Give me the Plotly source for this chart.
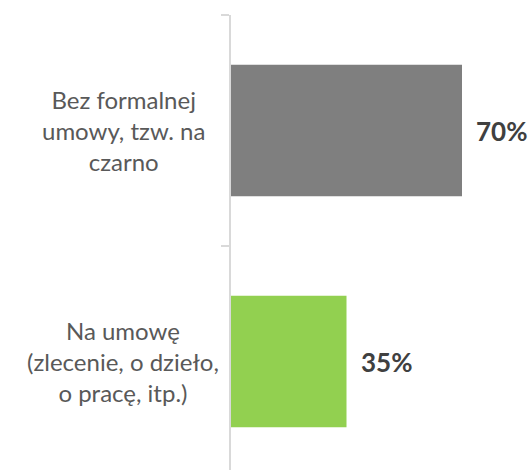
import plotly.graph_objects as go

categories = ["Bez formalnej<br>umowy, tzw. na<br>czarno", "Na umowę<br>(zlecenie, o dzieło,<br>o pracę, itp.)"]
values = [70, 35]
colors = ["#7f7f7f", "#92d050"]
value_labels = ["70%", "35%"]

fig = go.Figure()
fig.add_trace(go.Bar(
    x=values, y=categories, orientation="h",
    marker=dict(color=colors, line=dict(width=0)),
    width=0.57, hoverinfo="skip",
))

for cat, v, lab in zip(categories, values, value_labels):
    fig.add_annotation(x=v, y=cat, xref="x", yref="y", text=lab, showarrow=False,
                       xanchor="left", xshift=12,
                       font=dict(family="Lato", size=26, color="#404040", weight="bold"))
    fig.add_annotation(x=-0.3636, y=cat, xref="paper", yref="y", text=cat, showarrow=False,
                       xanchor="center", align="center",
                       font=dict(family="Lato", size=24, color="#595959"))

fig.update_layout(
    width=532, height=470,
    margin=dict(l=231, r=4, t=15, b=0),
    paper_bgcolor="white", plot_bgcolor="white",
    showlegend=False,
    xaxis=dict(range=[0, 90], visible=False),
    yaxis=dict(
        range=[1.4697, -0.5],
        showline=True, linecolor="#d9d9d9", linewidth=2,
        ticks="outside", tickson="boundaries", ticklen=8, tickcolor="#d9d9d9", tickwidth=2,
        showticklabels=False, showgrid=False, zeroline=False,
    ),
)

fig.write_html("out.html", config={"displayModeBar": False},
               post_script="document.body.style.margin='0';document.body.style.overflow='hidden';")
